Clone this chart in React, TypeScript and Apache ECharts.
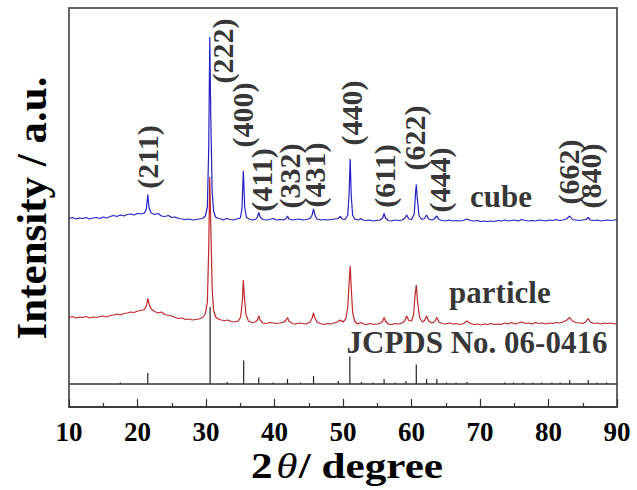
import React, { useEffect, useRef } from "react";
import * as echarts from "echarts";

// ---- Data (2θ in degrees, intensity in arbitrary units) ----
const cubeTrace: [number, number][] = [
  [10.0, 188.5], [10.5, 189.5], [11.0, 188.0], [11.5, 189.0], [12.0, 188.5], [12.5, 189.5],
  [13.0, 188.0], [13.5, 189.0], [14.0, 189.5], [14.5, 188.5], [15.0, 190.0], [15.5, 189.0],
  [16.0, 190.5], [16.5, 191.5], [17.0, 190.5], [17.5, 192.0], [18.0, 191.0], [18.5, 192.5],
  [19.0, 193.0], [19.5, 192.0], [20.0, 193.5], [20.5, 193.0], [21.0, 194.0], [21.3, 198.0],
  [21.5, 212.5], [21.7, 199.0], [22.0, 194.0], [22.5, 192.5], [23.0, 193.5], [23.5, 191.0],
  [24.0, 190.5], [24.5, 191.5], [25.0, 189.5], [25.5, 190.0], [26.0, 188.5], [26.5, 188.0],
  [27.0, 187.5], [27.5, 188.0], [28.0, 187.0], [28.5, 187.5], [29.0, 188.0], [29.5, 188.5],
  [29.9, 191.0], [30.2, 200.0], [30.4, 260.0], [30.55, 370.0], [30.7, 290.0], [30.9, 215.0],
  [31.1, 196.0], [31.4, 190.0], [31.8, 188.5], [32.2, 188.0], [32.5, 187.0], [33.0, 188.5],
  [33.5, 187.5], [34.0, 187.0], [34.5, 188.0], [35.0, 189.0], [35.25, 198.0], [35.45, 236.0],
  [35.65, 200.0], [35.9, 189.5], [36.3, 188.0], [36.8, 187.0], [37.3, 188.0], [37.5, 190.0],
  [37.7, 194.5], [37.9, 190.0], [38.3, 187.5], [38.8, 187.0], [39.3, 187.5], [39.8, 188.5],
  [40.3, 187.0], [40.8, 187.5], [41.3, 187.0], [41.7, 188.5], [41.9, 191.0], [42.1, 188.0],
  [42.6, 187.0], [43.1, 187.5], [43.6, 188.0], [44.1, 187.0], [44.6, 187.5], [45.2, 188.5],
  [45.5, 192.0], [45.7, 198.0], [45.9, 192.0], [46.2, 188.0], [46.8, 187.0], [47.3, 187.5],
  [47.8, 187.0], [48.3, 187.5], [48.8, 188.0], [49.3, 188.5], [49.6, 190.5], [49.9, 188.0],
  [50.3, 187.5], [50.7, 192.0], [50.9, 215.0], [51.05, 248.0], [51.2, 212.0], [51.4, 192.0],
  [51.7, 188.0], [52.2, 187.0], [52.6, 188.5], [52.9, 187.0], [53.4, 186.5], [53.9, 187.0],
  [54.4, 186.0], [54.9, 186.5], [55.4, 187.0], [55.8, 189.0], [56.0, 193.5], [56.2, 189.0],
  [56.6, 186.5], [57.1, 186.0], [57.6, 187.0], [58.1, 186.5], [58.6, 187.0], [59.0, 188.5],
  [59.3, 192.0], [59.6, 188.0], [60.0, 187.5], [60.4, 193.0], [60.6, 215.0], [60.7, 222.5],
  [60.85, 208.0], [61.1, 191.0], [61.5, 187.5], [61.9, 188.5], [62.2, 192.0], [62.5, 188.0],
  [63.0, 187.0], [63.4, 188.5], [63.7, 191.0], [64.0, 187.5], [64.5, 186.5], [65.0, 186.0],
  [65.5, 187.0], [66.0, 186.0], [66.5, 186.5], [67.0, 186.0], [67.5, 186.5], [68.1, 188.0],
  [68.6, 186.5], [69.1, 186.0], [69.6, 186.5], [70.1, 185.5], [70.6, 186.0], [71.1, 185.5],
  [71.6, 186.0], [72.1, 185.5], [72.6, 186.5], [73.1, 186.0], [73.6, 187.0], [74.1, 186.0],
  [74.6, 186.5], [75.1, 187.0], [75.6, 186.0], [76.1, 187.5], [76.6, 186.5], [77.1, 186.0],
  [77.6, 186.5], [78.1, 186.0], [78.6, 187.0], [79.1, 186.5], [79.6, 186.0], [80.1, 187.0],
  [80.6, 186.5], [81.1, 187.5], [81.6, 186.5], [82.1, 187.0], [82.6, 188.0], [83.1, 191.0],
  [83.5, 187.5], [84.0, 187.0], [84.5, 186.5], [85.0, 187.0], [85.5, 187.5], [85.8, 189.5],
  [86.1, 187.0], [86.6, 186.5], [87.1, 187.0], [87.6, 186.0], [88.1, 186.5], [88.6, 187.0],
  [89.1, 186.5], [89.6, 187.0], [90.0, 187.5],
];

const particleTrace: [number, number][] = [
  [10.0, 89.5], [10.5, 90.5], [11.0, 89.0], [11.5, 90.0], [12.0, 89.5], [12.5, 90.5],
  [13.0, 89.0], [13.5, 90.0], [14.0, 89.5], [14.5, 90.5], [15.0, 91.0], [15.5, 90.0],
  [16.0, 91.5], [16.5, 92.0], [17.0, 93.0], [17.5, 92.0], [18.0, 93.5], [18.5, 94.0],
  [19.0, 95.0], [19.5, 94.5], [20.0, 96.0], [20.5, 96.5], [21.0, 97.5], [21.3, 101.0],
  [21.5, 108.5], [21.7, 103.0], [22.0, 98.0], [22.5, 95.5], [23.0, 94.0], [23.5, 95.0],
  [24.0, 92.5], [24.5, 91.5], [25.0, 91.0], [25.5, 89.5], [26.0, 88.5], [26.5, 89.0],
  [27.0, 87.5], [27.5, 88.0], [28.0, 87.0], [28.5, 87.5], [29.0, 88.0], [29.5, 89.5],
  [29.9, 93.0], [30.2, 105.0], [30.4, 160.0], [30.55, 230.0], [30.7, 180.0], [30.9, 118.0],
  [31.1, 97.0], [31.4, 90.0], [31.8, 88.0], [32.2, 87.0], [32.7, 86.5], [33.2, 87.0],
  [33.7, 85.5], [34.2, 85.0], [34.7, 86.0], [35.05, 90.0], [35.3, 105.0], [35.45, 127.0],
  [35.6, 110.0], [35.85, 92.0], [36.2, 86.0], [36.7, 84.5], [37.2, 85.0], [37.5, 87.0],
  [37.7, 91.0], [37.9, 87.0], [38.3, 84.0], [38.8, 83.5], [39.3, 84.5], [39.8, 84.0],
  [40.3, 83.5], [40.8, 84.0], [41.4, 85.0], [41.7, 87.0], [41.9, 89.5], [42.1, 86.0],
  [42.6, 83.5], [43.1, 83.0], [43.6, 84.0], [44.1, 83.5], [44.6, 83.0], [45.2, 85.0],
  [45.5, 89.0], [45.7, 94.0], [45.9, 89.0], [46.2, 85.0], [46.7, 83.5], [47.2, 82.5],
  [47.7, 83.5], [48.2, 83.0], [48.7, 84.0], [49.2, 85.0], [49.6, 87.0], [50.0, 85.0],
  [50.4, 88.0], [50.7, 100.0], [50.9, 125.0], [51.05, 141.0], [51.2, 120.0], [51.4, 95.0],
  [51.7, 86.0], [52.1, 83.0], [52.6, 84.5], [53.0, 83.0], [53.5, 82.5], [54.0, 83.5],
  [54.5, 82.5], [55.0, 83.0], [55.5, 84.0], [55.8, 86.0], [56.0, 89.5], [56.2, 86.0],
  [56.6, 83.0], [57.1, 82.5], [57.6, 83.5], [58.1, 83.0], [58.6, 84.0], [59.0, 86.0],
  [59.3, 91.0], [59.6, 86.5], [60.0, 86.0], [60.3, 92.0], [60.5, 110.0], [60.7, 122.0],
  [60.9, 104.0], [61.2, 89.0], [61.6, 85.0], [61.9, 86.5], [62.2, 91.0], [62.5, 86.0],
  [63.0, 84.0], [63.4, 85.5], [63.7, 89.5], [64.0, 85.0], [64.5, 83.5], [65.0, 83.0],
  [65.5, 84.0], [66.0, 83.0], [66.5, 83.5], [67.0, 82.5], [67.6, 83.5], [68.1, 86.0],
  [68.6, 83.5], [69.1, 82.5], [69.6, 83.0], [70.1, 82.0], [70.6, 83.0], [71.1, 82.5],
  [71.6, 83.5], [72.1, 82.5], [72.6, 83.0], [73.1, 82.5], [73.6, 84.0], [74.1, 83.0],
  [74.6, 84.5], [75.1, 83.0], [75.6, 84.0], [76.1, 85.0], [76.6, 83.5], [77.1, 84.0],
  [77.6, 83.0], [78.1, 84.5], [78.6, 83.5], [79.1, 84.0], [79.6, 83.0], [80.1, 84.0],
  [80.6, 83.5], [81.1, 84.5], [81.6, 84.0], [82.1, 85.0], [82.6, 86.5], [83.1, 89.5],
  [83.5, 86.0], [84.0, 84.5], [84.5, 84.0], [85.0, 83.5], [85.5, 85.5], [85.8, 88.5],
  [86.1, 85.0], [86.6, 83.5], [87.1, 84.0], [87.6, 83.0], [88.1, 84.0], [88.6, 83.5],
  [89.1, 84.0], [89.6, 83.0], [90.0, 83.5],
];

// JCPDS No. 06-0416 reference pattern: stick positions (2θ) and stick heights
const stickPositions: number[] = [
  17.5, 21.5, 30.6, 33.1, 35.5, 37.7, 39.8, 41.9, 43.8, 45.7, 49.3, 51.0, 52.7, 54.4,
  56.0, 57.6, 59.2, 60.7, 62.2, 63.7, 65.1, 66.5, 68.1, 73.6, 74.9, 76.3, 77.7, 79.0,
  80.5, 81.7, 83.1, 85.8, 87.1, 88.5,
];
const stickHeights: number[] = [
  1.5, 11, 77, 2, 23.5, 6.5, 1.5, 5, 1.5, 8, 3, 27.5, 2, 1.5,
  5, 1.5, 3, 19.5, 5, 5, 1.5, 1.5, 2, 1.5, 1.5, 1.5, 1.5, 1.5,
  1.5, 1.5, 4, 4, 1.5, 1.5,
];
const stickBase = 23;

// Miller-index annotations
const hklLabels: string[] = [
  "(211)", "(222)", "(400)", "(411)", "(332)", "(431)", "(440)", "(611)", "(622)", "(444)", "(662)", "(840)",
];
const sampleLabels: string[] = ["cube", "particle", "JCPDS No. 06-0416"];

const xTicks = { min: 10, max: 90, step: 10 };

// ---- layout (annotation anchors in data coordinates) ----
const hklAnchors: [number, number][] = [
  [21.5, 250], [32.34, 356], [35.4, 292], [38.03, 227], [42.26, 231], [45.91, 232],
  [51.31, 294], [56.13, 231], [60.51, 269], [64.16, 227], [82.85, 235], [86.2, 231],
];
const sampleAnchors: [number, number][] = [[73.07, 210.5], [72.9, 114.5], [69.56, 64.5]];

const FONT = '"Liberation Serif", "Times New Roman", serif';
const BLUE = "#2222c4";
const RED = "#c0272d";
const FRAME = "#333333";

export default function App() {
  const ref = useRef<HTMLDivElement>(null);

  useEffect(() => {
    if (!ref.current) return;
    const chart = echarts.init(ref.current, undefined, { renderer: "svg" });

    const option: any = {
      animation: false,
      grid: {
        left: 69, right: 20, top: 8, bottom: 83,
        show: true, borderColor: FRAME, borderWidth: 1.5, backgroundColor: "transparent",
      },
      xAxis: {
        type: "value",
        min: xTicks.min, max: xTicks.max, interval: xTicks.step,
        axisLine: { show: true, onZero: false, lineStyle: { color: FRAME, width: 1.5 } },
        axisTick: { show: true, inside: true, length: 8, lineStyle: { color: FRAME, width: 1.2 } },
        minorTick: { show: true, splitNumber: 2, length: 4, lineStyle: { color: FRAME, width: 1.2 } },
        axisLabel: { color: "#000", fontFamily: FONT, fontWeight: "bold", fontSize: 27, margin: 11, lineHeight: 27 },
        splitLine: { show: false },
        minorSplitLine: { show: false },
      },
      yAxis: { type: "value", min: 0, max: 399, show: false },
      series: [
        {
          name: "baseline",
          type: "line",
          data: [[xTicks.min, stickBase], [xTicks.max, stickBase]],
          symbol: "none",
          lineStyle: { color: FRAME, width: 1.5 },
          silent: true,
          z: 2,
        },
        {
          name: "JCPDS",
          type: "custom",
          data: stickPositions.map((p, i) => [p, stickHeights[i]]),
          renderItem: (_params: any, api: any) => {
            const x = api.value(0);
            const h = api.value(1);
            const p0 = api.coord([x, stickBase]);
            const p1 = api.coord([x, stickBase + h]);
            return {
              type: "line",
              shape: { x1: p0[0], y1: p0[1], x2: p1[0], y2: p1[1] },
              style: { stroke: "#222", lineWidth: 1.2 },
            };
          },
          silent: true,
          z: 2,
        },
        {
          name: "particle",
          type: "line",
          data: particleTrace,
          symbol: "none",
          lineStyle: { color: RED, width: 1.2 },
          silent: true,
          z: 3,
        },
        {
          name: "cube",
          type: "line",
          data: cubeTrace,
          symbol: "none",
          lineStyle: { color: BLUE, width: 1.2 },
          silent: true,
          z: 4,
        },
        {
          name: "hkl",
          type: "scatter",
          data: hklAnchors.map((a, i) => [a[0], a[1], hklLabels[i]]),
          symbolSize: 0,
          itemStyle: { color: "transparent" },
          silent: true,
          z: 5,
          label: {
            show: true,
            position: "inside",
            rotate: 90,
            formatter: (p: any) => p.data[2],
            color: "#000",
            fontFamily: FONT,
            fontWeight: "bold",
            fontSize: 30,
          },
        },
        {
          name: "samples",
          type: "scatter",
          data: sampleAnchors.map((a, i) => [a[0], a[1], sampleLabels[i]]),
          symbolSize: 0,
          itemStyle: { color: "transparent" },
          silent: true,
          z: 5,
          label: {
            show: true,
            position: "inside",
            formatter: (p: any) => p.data[2],
            color: "#000",
            fontFamily: FONT,
            fontWeight: "bold",
            fontSize: 31,
          },
        },
      ],
      graphic: [
        {
          type: "text",
          x: 31,
          y: 208,
          rotation: Math.PI / 2,
          style: {
            text: "Intensity / a.u.",
            fill: "#000",
            font: `bold 43px ${FONT}`,
            align: "center",
            verticalAlign: "middle",
            textAlign: "center",
            textVerticalAlign: "middle",
          },
        },
        {
          type: "text",
          x: 347,
          y: 466,
          scaleX: 1.2,
          style: {
            text: "{n|2}{t|θ}{n|/ degree}",
            fill: "#000",
            align: "center",
            verticalAlign: "middle",
            textAlign: "center",
            textVerticalAlign: "middle",
            rich: {
              n: { fontFamily: FONT, fontWeight: "bold", fontSize: 36, lineHeight: 30, fill: "#000" },
              t: { fontFamily: FONT, fontStyle: "italic", fontSize: 36, lineHeight: 30, fill: "#000", padding: [0, 1, 0, 3] },
            },
          },
        },
      ],
    };

    chart.setOption(option);
    return () => chart.dispose();
  }, []);

  return (
    <div
      ref={ref}
      style={{ position: "fixed", left: 0, top: 0, width: 637, height: 490, background: "#fff" }}
    />
  );
}
